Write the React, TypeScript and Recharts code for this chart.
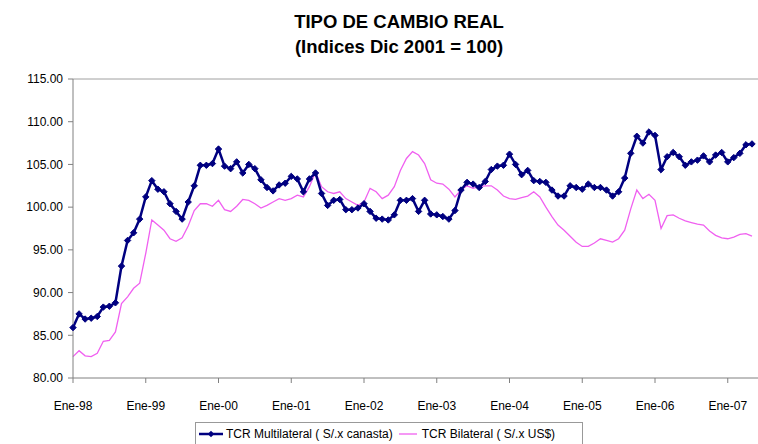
import { LineChart, Line, XAxis, YAxis, ReferenceLine } from "recharts";

// Tipo de cambio real, índices Dic 2001 = 100 (mensual, Ene-98 a May-07)
const months = ["Ene", "Feb", "Mar", "Abr", "May", "Jun", "Jul", "Ago", "Set", "Oct", "Nov", "Dic"];
const years = ["98", "99", "00", "01", "02", "03", "04", "05", "06", "07"];
const tickLabels = years.map(y => `Ene-${y}`);
const yTicks = [80, 85, 90, 95, 100, 105, 110, 115];

const multilateral = [
  85.9, 87.5, 86.9, 87.0, 87.2, 88.3, 88.4, 88.8, 93.1, 96.1, 97.0, 98.6,
  101.2, 103.1, 102.1, 101.8, 100.4, 99.5, 98.6, 100.6, 102.5, 104.9, 104.9, 105.1,
  106.8, 104.8, 104.5, 105.3, 104.0, 105.0, 104.5, 103.2, 102.3, 101.9, 102.6, 102.8,
  103.6, 103.3, 101.8, 103.3, 104.0, 101.6, 100.2, 100.8, 100.9, 99.7, 99.7, 99.9,
  100.4, 99.5, 98.7, 98.6, 98.5, 99.1, 100.8, 100.8, 101.0, 99.5, 100.8, 99.2,
  99.1, 98.9, 98.6, 99.6, 102.0, 102.9, 102.7, 102.3, 103.0, 104.4, 104.8, 104.9,
  106.2, 105.0, 103.8, 104.3, 103.1, 103.0, 102.9, 102.0, 101.3, 101.3, 102.5, 102.3,
  102.1, 102.7, 102.3, 102.3, 102.0, 101.3, 101.8, 103.4, 106.3, 108.3, 107.5, 108.8,
  108.4, 104.4, 105.9, 106.4, 105.9, 104.9, 105.3, 105.5, 106.0, 105.3, 106.1, 106.4,
  105.3, 105.8, 106.3, 107.3, 107.4,
];

const bilateral = [
  82.5, 83.2, 82.6, 82.5, 82.9, 84.3, 84.4, 85.4, 88.7, 89.5, 90.5, 91.1,
  94.6, 98.5, 97.9, 97.3, 96.3, 96.0, 96.4, 97.8, 99.6, 100.4, 100.4, 100.1,
  100.8, 99.7, 99.5, 100.1, 100.9, 100.8, 100.4, 99.9, 100.2, 100.6, 101.0, 100.8,
  101.0, 101.4, 101.2, 102.4, 104.1, 102.4, 101.8, 101.6, 101.8, 101.0, 100.6, 100.2,
  100.6, 102.2, 101.8, 101.0, 101.4, 102.4, 104.3, 105.7, 106.5, 106.1, 105.1, 103.2,
  102.8, 102.7, 102.1, 101.2, 102.0, 102.5, 102.2, 102.4, 102.5, 102.5, 102.0, 101.3,
  101.0, 100.9, 101.1, 101.3, 101.8, 101.2, 100.0, 98.9, 97.9, 97.3, 96.6, 95.9,
  95.4, 95.4, 95.8, 96.3, 96.1, 95.9, 96.3, 97.3, 99.8, 102.0, 101.0, 101.5,
  100.8, 97.5, 99.0, 99.1, 98.7, 98.4, 98.2, 98.0, 97.9, 97.2, 96.7, 96.4,
  96.3, 96.5, 96.8, 96.9, 96.6,
];

const categories = years.flatMap(y => months.map(m => `${m}-${y}`)).slice(0, multilateral.length);

const data = categories.map((mes, i) => ({
  mes,
  multi: multilateral[i],
  bil: bilateral[i],
}));

const NAVY = "#000080";
const PINK = "#F060F0";
const FONT = "Arial, 'Liberation Sans', sans-serif";

const Diamond = (props: any) => {
  const { cx, cy, index } = props;
  if (cx == null || cy == null) return null;
  return <path key={index} d={`M${cx},${cy - 3.2}L${cx + 3.2},${cy}L${cx},${cy + 3.2}L${cx - 3.2},${cy}Z`} fill={NAVY} stroke={NAVY} strokeWidth={1} />;
};

export default function App() {
  return (
    <div style={{ position: "absolute", left: 0, top: 0, width: 758, height: 444, background: "#fff", fontFamily: FONT, overflow: "hidden" }}>
      <div style={{ position: "absolute", left: 0, width: 798, top: 9, textAlign: "center", fontWeight: 700, fontSize: 18.5, lineHeight: "25px", color: "#000" }}>
        TIPO DE CAMBIO REAL<br />(Indices Dic 2001 = 100)
      </div>
      <LineChart width={758} height={444} data={data} margin={{ top: 79, right: 0, bottom: 36, left: 0 }}>
        <ReferenceLine y={115} stroke="#a0a0a0" strokeWidth={1} />
        <XAxis
          dataKey="mes"
          ticks={tickLabels}
          interval={0}
          height={30}
          padding={{ left: 0, right: 6 }}
          tick={{ fontSize: 12, fill: "#000", fontFamily: FONT }}
          tickSize={5}
          tickMargin={18}
          axisLine={{ stroke: "#808080" }}
          tickLine={{ stroke: "#808080" }}
        />
        <YAxis
          domain={[80, 115]}
          ticks={yTicks}
          width={73}
          tickFormatter={(v: number) => v.toFixed(2)}
          tick={{ fontSize: 12, fill: "#000", fontFamily: FONT }}
          tickSize={5}
          tickMargin={5}
          axisLine={{ stroke: "#808080" }}
          tickLine={{ stroke: "#808080" }}
        />
        <Line type="linear" dataKey="bil" stroke={PINK} strokeWidth={1.3} dot={false} isAnimationActive={false} />
        <Line type="linear" dataKey="multi" stroke={NAVY} strokeWidth={2.5} dot={<Diamond />} isAnimationActive={false} />
      </LineChart>
      <div style={{ position: "absolute", left: 195, top: 422, width: 388, height: 24, border: "1px solid #999", boxSizing: "border-box", display: "flex", alignItems: "center", fontSize: 12, color: "#000", whiteSpace: "nowrap" }}>
        <svg width={28} height={10} style={{ marginLeft: 2 }}>
          <line x1={1} y1={5} x2={25} y2={5} stroke={NAVY} strokeWidth={2.5} />
          <path d="M13,1.8L16.2,5L13,8.2L9.8,5Z" fill={NAVY} />
        </svg>
        <span>TCR Multilateral ( S/.x canasta)</span>
        <svg width={24} height={10} style={{ marginLeft: 5 }}>
          <line x1={1} y1={5} x2={19} y2={5} stroke={PINK} strokeWidth={1.3} />
        </svg>
        <span>TCR Bilateral ( S/.x US$)</span>
      </div>
    </div>
  );
}
